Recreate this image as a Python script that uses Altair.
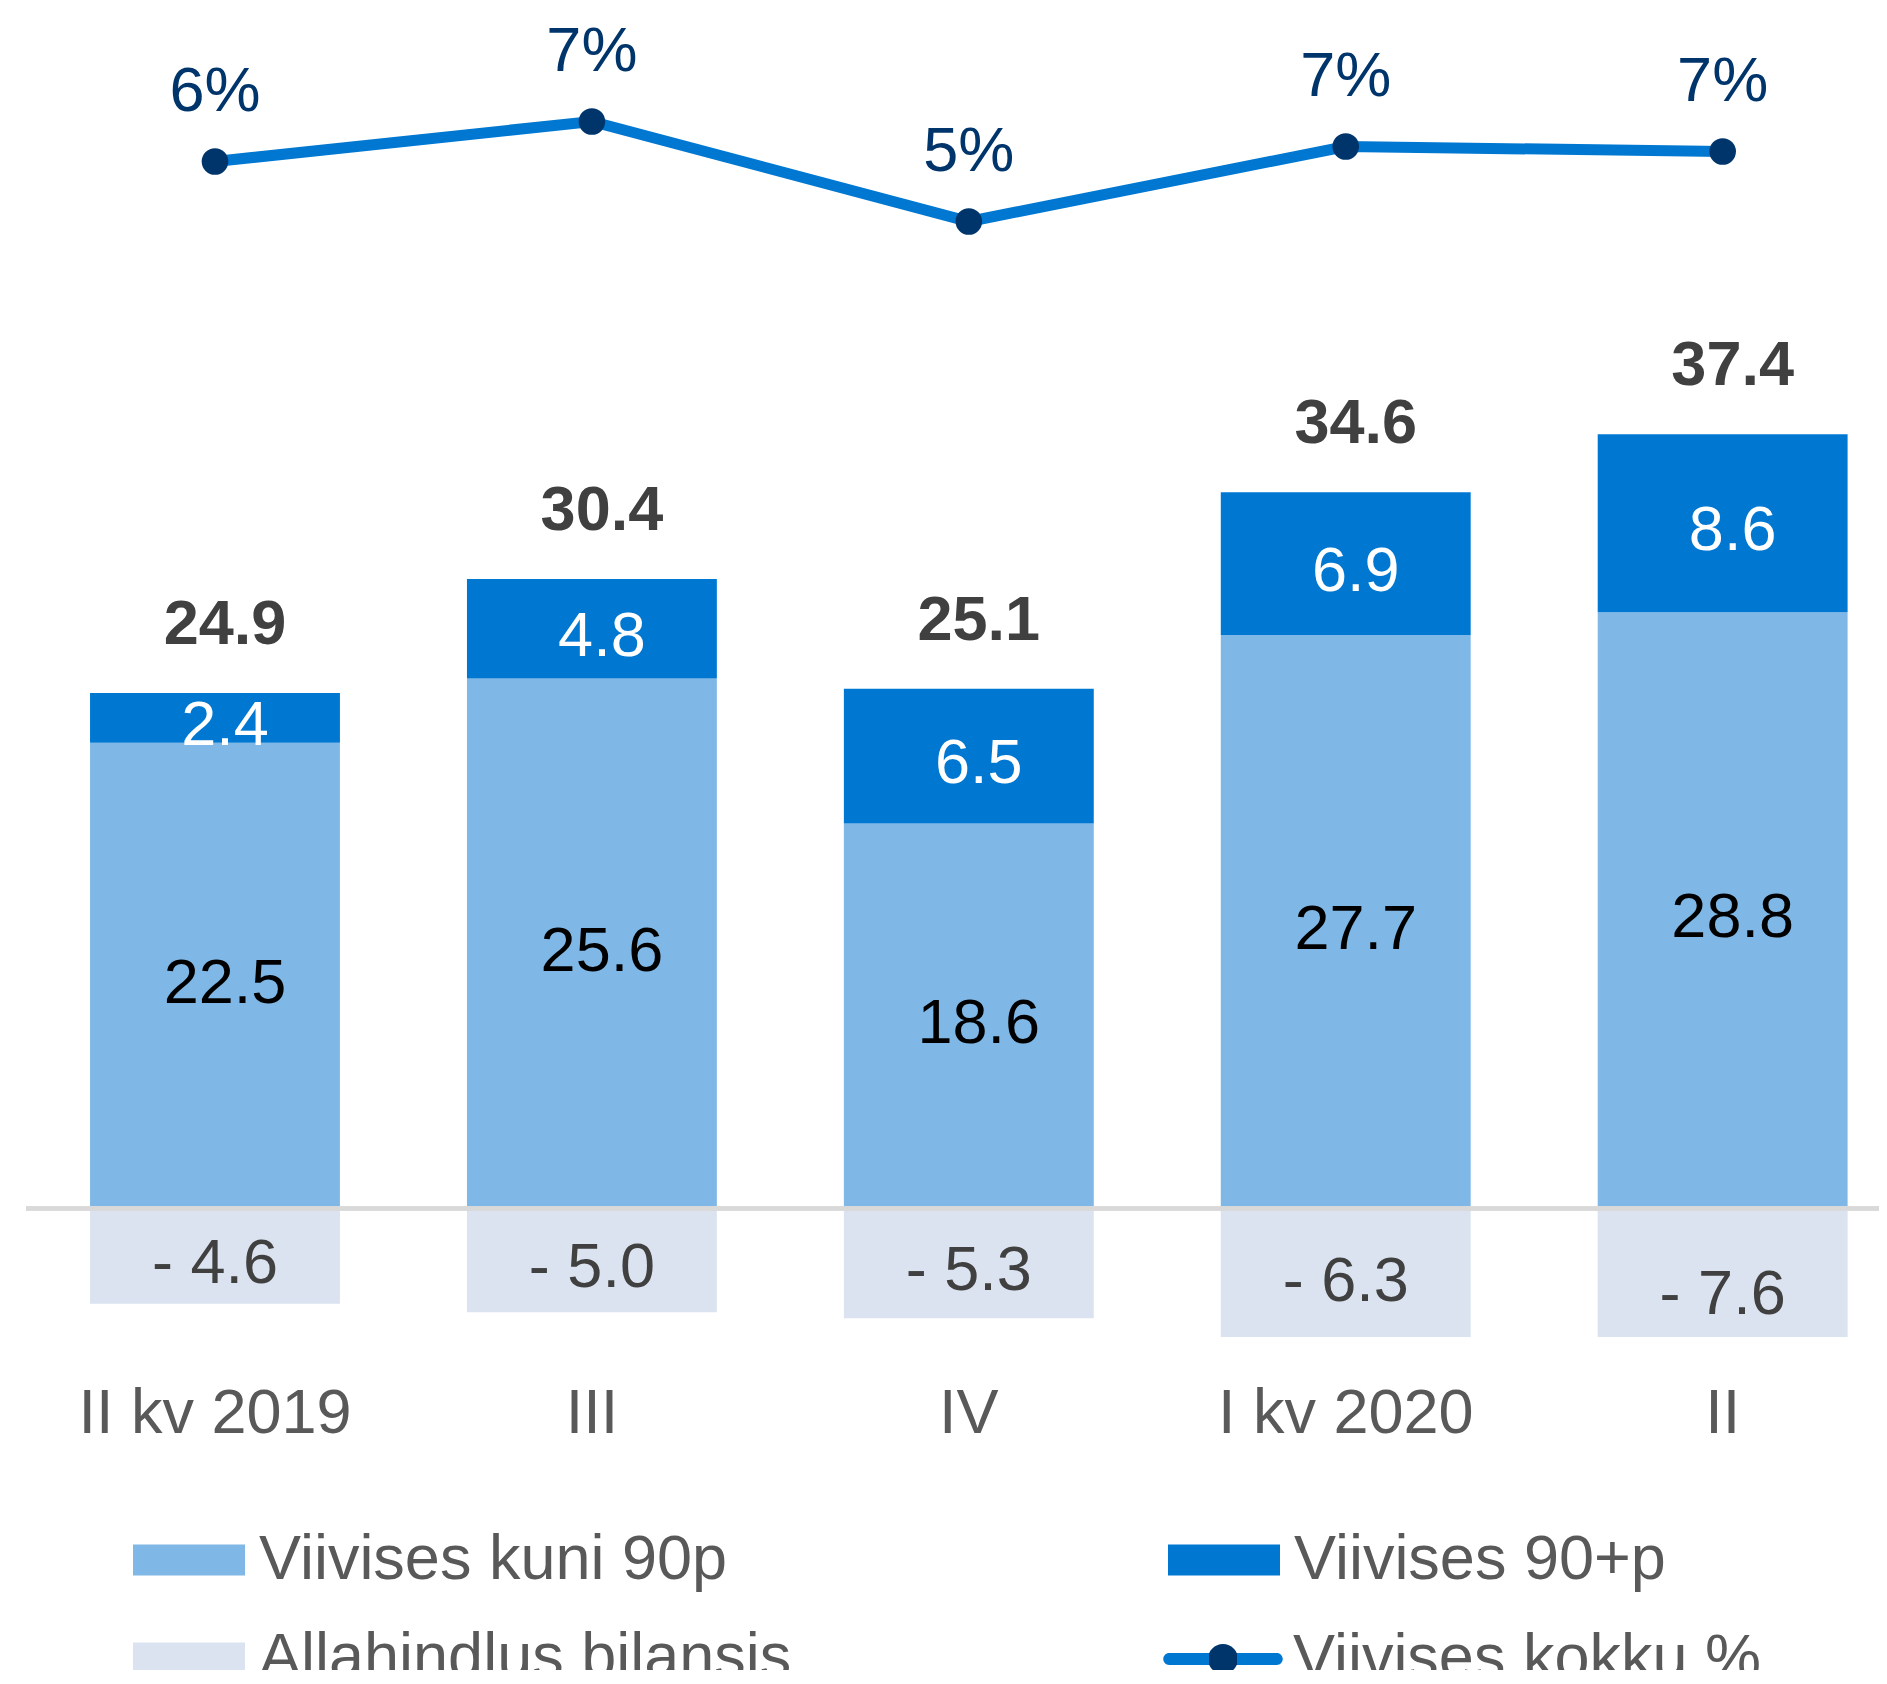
import altair as alt
import pandas as pd

# ---- data ----
quarters = ["II kv 2019", "III", "IV", "I kv 2020", "II"]
kuni90 = [22.5, 25.6, 18.6, 27.7, 28.8]          # Viivises kuni 90p
yle90 = [2.4, 4.8, 6.5, 6.9, 8.6]                # Viivises 90+p
allahindlus = [-4.6, -5.0, -5.3, -6.3, -7.6]     # Allahindlus bilansis
kokku_pct = [6.4, 7.2, 5.2, 6.7, 6.6]            # Viivises kokku %

bar_series = ["Viivises kuni 90p", "Viivises 90+p", "Allahindlus bilansis"]
bar_colors = ["#7FB8E6", "#0078D2", "#DAE3EF"]
line_series = "Viivises kokku %"
line_color = "#0078D2"
navy = "#00356B"
FONT = "Liberation Sans"
FS = 63

# ---- tables built from the lists ----
long_rows = []
for i, q in enumerate(quarters):
    long_rows.append({"quarter": q, "series": bar_series[0], "value": kuni90[i], "ord": 0})
    long_rows.append({"quarter": q, "series": bar_series[1], "value": yle90[i], "ord": 1})
    long_rows.append({"quarter": q, "series": bar_series[2], "value": allahindlus[i], "ord": 2})
long_df = pd.DataFrame(long_rows)

wide_df = pd.DataFrame({
    "quarter": quarters,
    "k": kuni90,
    "p": yle90,
    "a": allahindlus,
    "pct": kokku_pct,
    "series_line": [line_series] * len(quarters),
})

# ---- legend styling ----
rect_path = "M-1,-0.277L1,-0.277L1,0.277L-1,0.277Z"
line_path = ("M-0.96,-0.107L0.96,-0.107A0.107,0.107 0 0 1 0.96,0.107L-0.96,0.107"
             "A0.107,0.107 0 0 1 -0.96,-0.107Z"
             "M0.268,0A0.268,0.268 0 1 1 -0.268,0A0.268,0.268 0 1 1 0.268,0Z")
line_gradient = alt.LinearGradient(
    gradient="linear", x1=0, y1=0, x2=1, y2=0,
    stops=[
        alt.GradientStop(offset=0, color=line_color),
        alt.GradientStop(offset=0.385, color=line_color),
        alt.GradientStop(offset=0.385, color=navy),
        alt.GradientStop(offset=0.615, color=navy),
        alt.GradientStop(offset=0.615, color=line_color),
        alt.GradientStop(offset=1, color=line_color),
    ],
)

common_legend = dict(
    orient="none", title=None, labelFont=FONT, labelFontSize=FS, labelColor="#595959",
    labelLimit=2000, labelOffset=14, symbolSize=12544, symbolStrokeWidth=0, symbolOpacity=1,
)
bar_legend = alt.Legend(legendX=107, legendY=1484, direction="horizontal", columns=2,
                        columnPadding=376, rowPadding=10, symbolType=rect_path, **common_legend)
line_legend = alt.Legend(legendX=1141, legendY=1583, symbolType=line_path, **common_legend)

X = alt.X(
    "quarter:N", sort=quarters, title=None,
    scale=alt.Scale(paddingInner=0.337, paddingOuter=0.1266, align=0.671),
    axis=alt.Axis(domain=False, ticks=False, tickSize=0, labelPadding=45, labelFontSize=FS,
                  labelColor="#595959", labelFont=FONT, labelAngle=0, labelLimit=1000, grid=False),
)
y_bar = alt.Scale(domain=[-6.2, 57.4], nice=False, zero=False)
y_line = alt.Scale(domain=[-17.11, 9.23], nice=False, zero=False)

bars = alt.Chart(long_df).mark_bar(clip=True).encode(
    x=X,
    y=alt.Y("value:Q", stack="zero", scale=y_bar, axis=None),
    color=alt.Color("series:N", scale=alt.Scale(domain=bar_series, range=bar_colors), legend=bar_legend),
    order=alt.Order("ord:Q"),
)
zero_rule = alt.Chart(wide_df).mark_rule(color="#D9D9D9", strokeWidth=4).encode(
    y=alt.YDatum(0, scale=y_bar, axis=None)
)
k_text = alt.Chart(wide_df).transform_calculate(mid="datum.k / 2").mark_text(
    font=FONT, fontSize=FS, color="#000000", baseline="middle", dy=8, dx=10
).encode(x=X, y=alt.Y("mid:Q", scale=y_bar, axis=None), text=alt.Text("k:Q", format=".1f"))
p_text = alt.Chart(wide_df).transform_calculate(mid="datum.k + datum.p / 2").mark_text(
    font=FONT, fontSize=FS, color="#FFFFFF", baseline="middle", dy=8, dx=10
).encode(x=X, y=alt.Y("mid:Q", scale=y_bar, axis=None), text=alt.Text("p:Q", format=".1f"))
a_text = alt.Chart(wide_df).transform_calculate(
    mid="datum.a / 2", lab="'- ' + format(abs(datum.a), '.1f')"
).mark_text(
    font=FONT, fontSize=FS, color="#404040", baseline="middle", dy=8
).encode(x=X, y=alt.Y("mid:Q", scale=y_bar, axis=None), text="lab:N")
total_text = alt.Chart(wide_df).transform_calculate(tot="datum.k + datum.p").mark_text(
    font=FONT, fontSize=FS, fontWeight="bold", color="#404040", baseline="alphabetic", dy=-49, dx=10
).encode(x=X, y=alt.Y("tot:Q", scale=y_bar, axis=None), text=alt.Text("tot:Q", format=".1f"))

line = alt.Chart(wide_df).mark_line(color=line_color, strokeWidth=11).encode(
    x=X, y=alt.Y("pct:Q", scale=y_line, axis=None)
)
points = alt.Chart(wide_df).mark_point(filled=True, size=707, opacity=1, strokeWidth=0, color=navy).encode(
    x=X, y=alt.Y("pct:Q", scale=y_line, axis=None),
)
# legend entry for the line series (no marks drawn, only its legend)
line_key = alt.Chart(wide_df).transform_filter("false").mark_point(
    filled=True, strokeWidth=0, color=line_gradient
).encode(
    x=X, y=alt.Y("pct:Q", scale=y_line, axis=None),
    opacity=alt.Opacity("series_line:N", scale=alt.Scale(domain=[line_series], range=[1]),
                        legend=line_legend),
)
pct_text = alt.Chart(wide_df).transform_calculate(
    lab="format(datum.pct, '.0f') + '%'"
).mark_text(
    font=FONT, fontSize=FS, color=navy, baseline="alphabetic", dy=-51
).encode(x=X, y=alt.Y("pct:Q", scale=y_line, axis=None), text="lab:N")

bar_layer = alt.layer(bars, zero_rule, k_text, p_text, a_text, total_text)
line_layer = alt.layer(line, points, line_key, pct_text)

chart = alt.layer(bar_layer, line_layer).resolve_scale(y="independent").properties(
    width=1853, height=1317,
    autosize=alt.AutoSizeParams(type="none"),
    padding={"left": 18, "top": 12, "right": 0, "bottom": 333},
).configure_view(stroke=None)

chart.save("out.html", embed_options={"renderer": "svg", "actions": False})
